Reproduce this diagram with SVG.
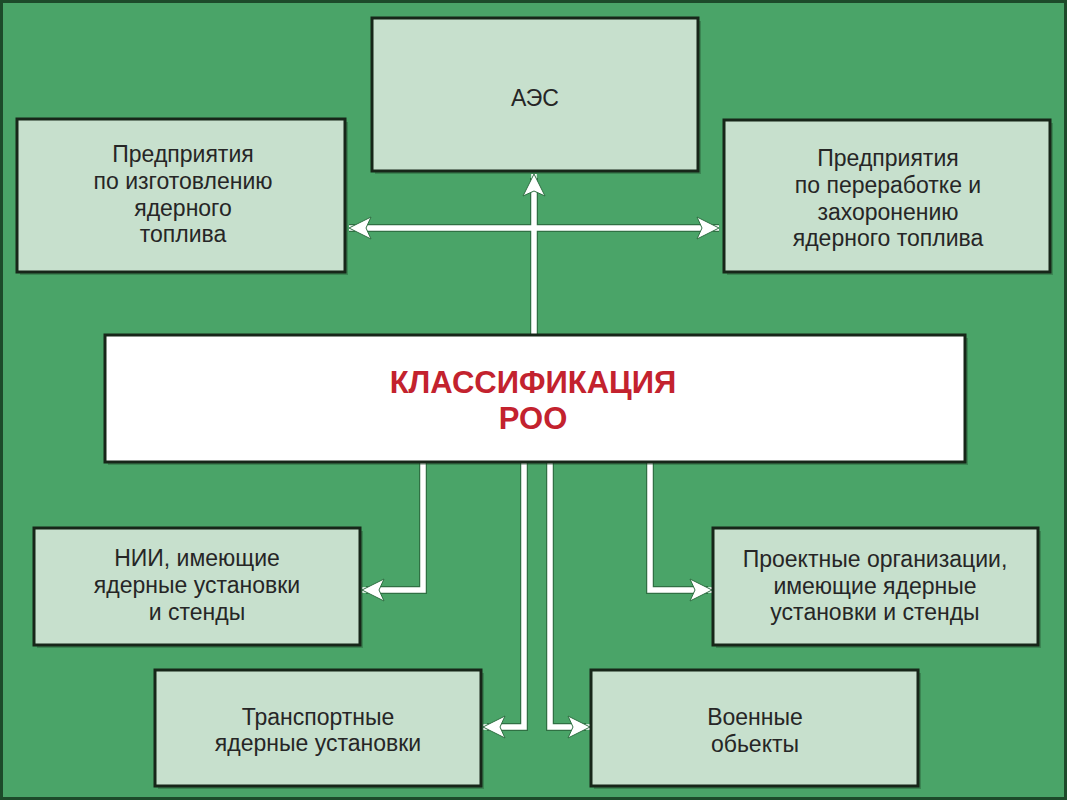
<svg xmlns="http://www.w3.org/2000/svg" width="1067" height="800" viewBox="0 0 1067 800">
<defs>
<style>
.box{fill:#c7e0cd;stroke:#172619;stroke-width:3}
.shadow{fill:#1f4a2c;opacity:0.35}
.t{font-family:"Liberation Sans",Arial,sans-serif;font-size:23px;fill:#262626;text-anchor:middle}
.title{font-family:"Liberation Sans",Arial,sans-serif;font-size:31px;font-weight:bold;fill:#c3222e;text-anchor:middle}
.edge{fill:none;stroke:#2f7043;stroke-width:8;stroke-linejoin:miter}
.core{fill:none;stroke:#ffffff;stroke-width:5.5;stroke-linejoin:miter}
</style>
<marker id="ah" markerUnits="userSpaceOnUse" markerWidth="26" markerHeight="26" viewBox="0 0 26 26" refX="24" refY="13" orient="auto-start-reverse">
<path d="M2,2 L24,13 L2,24 L7,13 Z" fill="#ffffff" stroke="#2f7043" stroke-width="1"/>
</marker>
</defs>
<rect x="0" y="0" width="1067" height="800" fill="#4aa468"/>
<rect x="1.5" y="1.5" width="1064" height="797" fill="none" stroke="#1d4a2a" stroke-width="3"/>

<g id="connectors">
<path class="edge" d="M349,228 H719"/>
<path class="edge" d="M534,336 V178"/>
<path class="edge" d="M423,462 V590 H366"/>
<path class="edge" d="M524,462 V727 H487"/>
<path class="edge" d="M550,462 V727 H586"/>
<path class="edge" d="M650,462 V590 H708"/>
<path class="core" d="M349,228 H719" marker-start="url(#ah)" marker-end="url(#ah)"/>
<path class="core" d="M534,336 V174" marker-end="url(#ah)"/>
<path class="core" d="M423,462 V590 H362" marker-end="url(#ah)"/>
<path class="core" d="M524,462 V727 H483" marker-end="url(#ah)"/>
<path class="core" d="M550,462 V727 H590" marker-end="url(#ah)"/>
<path class="core" d="M650,462 V590 H712" marker-end="url(#ah)"/>
</g>

<g id="aes">
<rect class="shadow" x="375" y="21" width="326" height="153"/>
<rect class="box" x="372" y="18" width="326" height="153"/>
<text class="t" x="535" y="106">АЭС</text>
</g>

<g id="fuel-production">
<rect class="shadow" x="20" y="122" width="328" height="153"/>
<rect class="box" x="17" y="119" width="328" height="153"/>
<text class="t" x="183" y="162">Предприятия</text>
<text class="t" x="183" y="189">по изготовлению</text>
<text class="t" x="183" y="216">ядерного</text>
<text class="t" x="183" y="242">топлива</text>
</g>

<g id="fuel-processing">
<rect class="shadow" x="727" y="123" width="326" height="152"/>
<rect class="box" x="724" y="120" width="326" height="152"/>
<text class="t" x="888" y="166">Предприятия</text>
<text class="t" x="888" y="193">по переработке и</text>
<text class="t" x="888" y="220">захоронению</text>
<text class="t" x="888" y="246">ядерного топлива</text>
</g>

<g id="classification">
<rect class="shadow" x="108" y="338" width="860" height="127"/>
<rect x="105" y="335" width="860" height="127" fill="#ffffff" stroke="#172619" stroke-width="3"/>
<text class="title" x="533" y="393">КЛАССИФИКАЦИЯ</text>
<text class="title" x="533" y="429">РОО</text>
</g>

<g id="nii">
<rect class="shadow" x="37" y="531" width="326" height="117"/>
<rect class="box" x="34" y="528" width="326" height="117"/>
<text class="t" x="197" y="566">НИИ, имеющие</text>
<text class="t" x="197" y="593">ядерные установки</text>
<text class="t" x="197" y="620">и стенды</text>
</g>

<g id="design-org">
<rect class="shadow" x="716" y="531" width="325" height="117"/>
<rect class="box" x="713" y="528" width="325" height="117"/>
<text class="t" x="875" y="567">Проектные организации,</text>
<text class="t" x="875" y="594">имеющие ядерные</text>
<text class="t" x="875" y="620">установки и стенды</text>
</g>

<g id="transport">
<rect class="shadow" x="158" y="673" width="326" height="116"/>
<rect class="box" x="155" y="670" width="326" height="116"/>
<text class="t" x="318" y="725">Транспортные</text>
<text class="t" x="318" y="751">ядерные установки</text>
</g>

<g id="military">
<rect class="shadow" x="594" y="673" width="327" height="116"/>
<rect class="box" x="591" y="670" width="327" height="116"/>
<text class="t" x="755" y="725">Военные</text>
<text class="t" x="755" y="752">обьекты</text>
</g>
</svg>
